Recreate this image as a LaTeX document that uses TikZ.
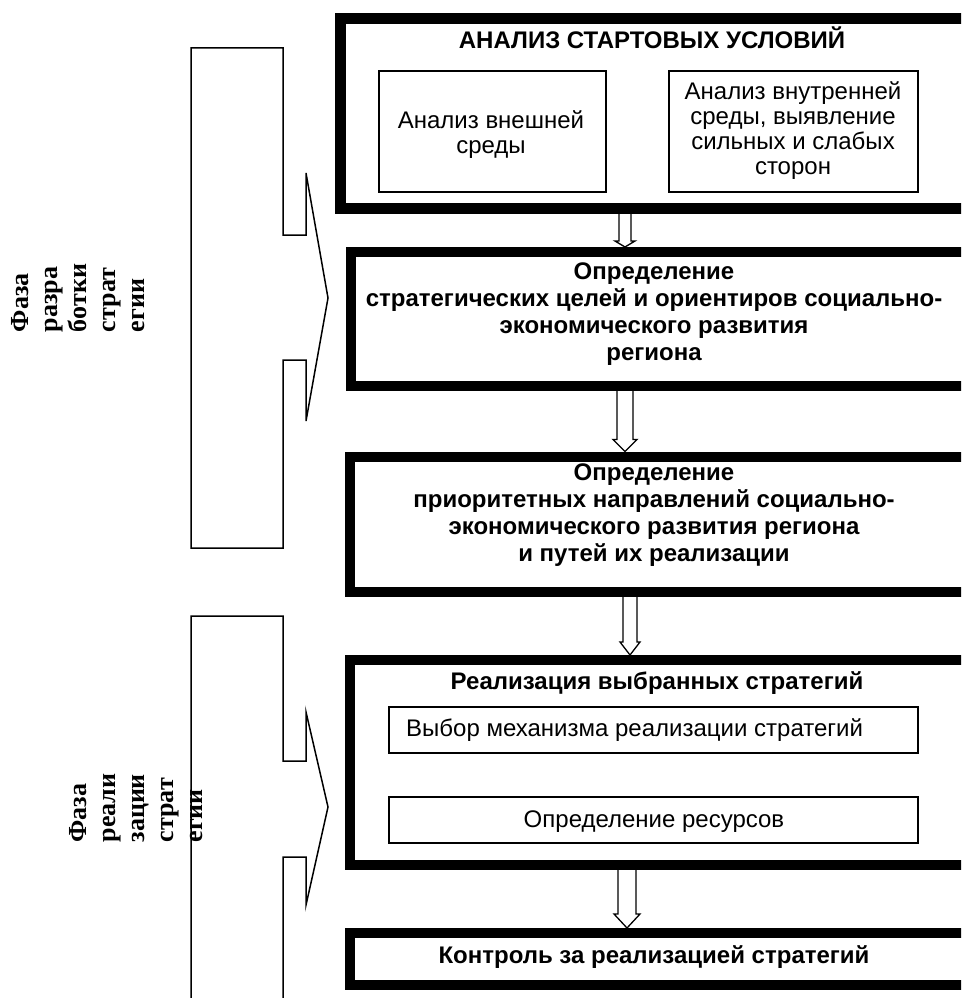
\documentclass[tikz,border=0pt]{standalone}
\usepackage{fontspec}
\setmainfont{Liberation Sans}
\newfontfamily\lserif{Liberation Serif}
\usetikzlibrary{calc}
\tikzset{
  bigbox/.style={draw, line width=10pt, rectangle, inner sep=0pt},
  smallbox/.style={draw, line width=1.5pt, rectangle, inner sep=0pt},
  boldtxt/.style={font=\fontsize{24}{27}\selectfont\bfseries, align=center, inner sep=0pt},
  regtxt/.style={font=\fontsize{24}{25}\selectfont, align=center, inner sep=0pt},
  phase/.style={font=\lserif\fontsize{26}{29}\selectfont\bfseries, align=left, rotate=90, inner sep=0pt},
  bracket/.style={draw, line width=1.5pt, line join=miter},
  arrline/.style={draw, line width=1.3pt, line join=miter},
}
\newcommand{\hollowarr}[6]{% from, to, x-coordinate, shaft half, head half, head length
  \draw[arrline] ($(#1.south -| #3)+(-#4,0)$) -- ($(#2.north -| #3)+(-#4,-#6)$)
    -- ($(#2.north -| #3)+(-#5,-#6)$) -- (#2.north -| #3)
    -- ($(#2.north -| #3)+(#5,-#6)$) -- ($(#2.north -| #3)+(#4,-#6)$)
    -- ($(#1.south -| #3)+(#4,0)$);}
\begin{document}
\begin{tikzpicture}[x=1pt, y=-1pt]
\useasboundingbox (0,0) rectangle (961,998);
\fill[white] (0,0) rectangle (961,998);
\clip (0,0) rectangle (961,998);

% main boxes
\node[bigbox, line width=11pt, minimum width=635pt, minimum height=190pt] (b1) at (657.5,113.5) {};
\node[bigbox, minimum width=624pt, minimum height=134pt] (b2) at (663,319) {};
\node[bigbox, minimum width=625.5pt, minimum height=135.5pt] (b3) at (662.25,524.25) {};
\node[bigbox, minimum width=625pt, minimum height=205pt] (b4) at (662.5,762.5) {};
\node[bigbox, minimum width=625.5pt, minimum height=52pt] (b5) at (662.25,959) {};

% box 1 content
\node[boldtxt] (t1) at (652,38) {АНАЛИЗ СТАРТОВЫХ УСЛОВИЙ};
\node[smallbox, minimum width=227pt, minimum height=121pt] (i1) at (492.5,131.5) {};
\node[regtxt] (i1t) at (491,134.5) {Анализ внешней\\среды};
\node[smallbox, minimum width=249pt, minimum height=121pt] (i2) at (793.5,131.5) {};
\node[regtxt] (i2t) at (793,130.5) {Анализ внутренней\\среды, выявление\\сильных и слабых\\сторон};

% box 2 and 3 text
\node[boldtxt] (t2) at (654,314) {Определение\\стратегических целей и ориентиров социально-\\экономического развития\\региона};
\node[boldtxt] (t3) at (654,515) {Определение\\приоритетных направлений социально-\\экономического развития региона\\и путей их реализации};

% box 4 content
\node[boldtxt] (t4) at (657,683) {Реализация выбранных стратегий};
\node[smallbox, minimum width=529pt, minimum height=46pt] (ia) at (653.5,730) {};
\node[regtxt, anchor=west] (iat) at (406,730) {Выбор механизма реализации стратегий};
\node[smallbox, minimum width=529pt, minimum height=46pt] (ib) at (653.5,820) {};
\node[regtxt] (ibt) at (654,822) {Определение ресурсов};

% box 5 text
\node[boldtxt] (t5) at (654,957) {Контроль за реализацией стратегий};

% arrows
\coordinate (ax1) at (625,0);
\coordinate (ax2) at (625,0);
\coordinate (ax3) at (630,0);
\coordinate (ax4) at (627,0);
\hollowarr{b1}{b2}{ax1}{6}{10}{6}
\hollowarr{b2}{b3}{ax2}{8}{12}{12}
\hollowarr{b3}{b4}{ax3}{7}{10}{13}
\hollowarr{b4}{b5}{ax4}{9}{13}{14}

% brackets
\draw[bracket] (191,48) -- (283,48) -- (283,235) -- (306,235) -- (306,173) -- (328,298)
  -- (306,421) -- (306,360) -- (283,360) -- (283,548) -- (191,548) -- cycle;
\draw[bracket] (191,1010) -- (191,616) -- (283,616) -- (283,761) -- (306,761) -- (306,712)
  -- (328,807) -- (306,905) -- (306,857) -- (283,857) -- (283,1010);

% phase labels
\node[phase] (p1) at (78.5,298) {Фаза\\разра\\ботки\\страт\\егии};
\node[phase] (p2) at (136,808) {Фаза\\реали\\зации\\страт\\егии};
\end{tikzpicture}
\end{document}
